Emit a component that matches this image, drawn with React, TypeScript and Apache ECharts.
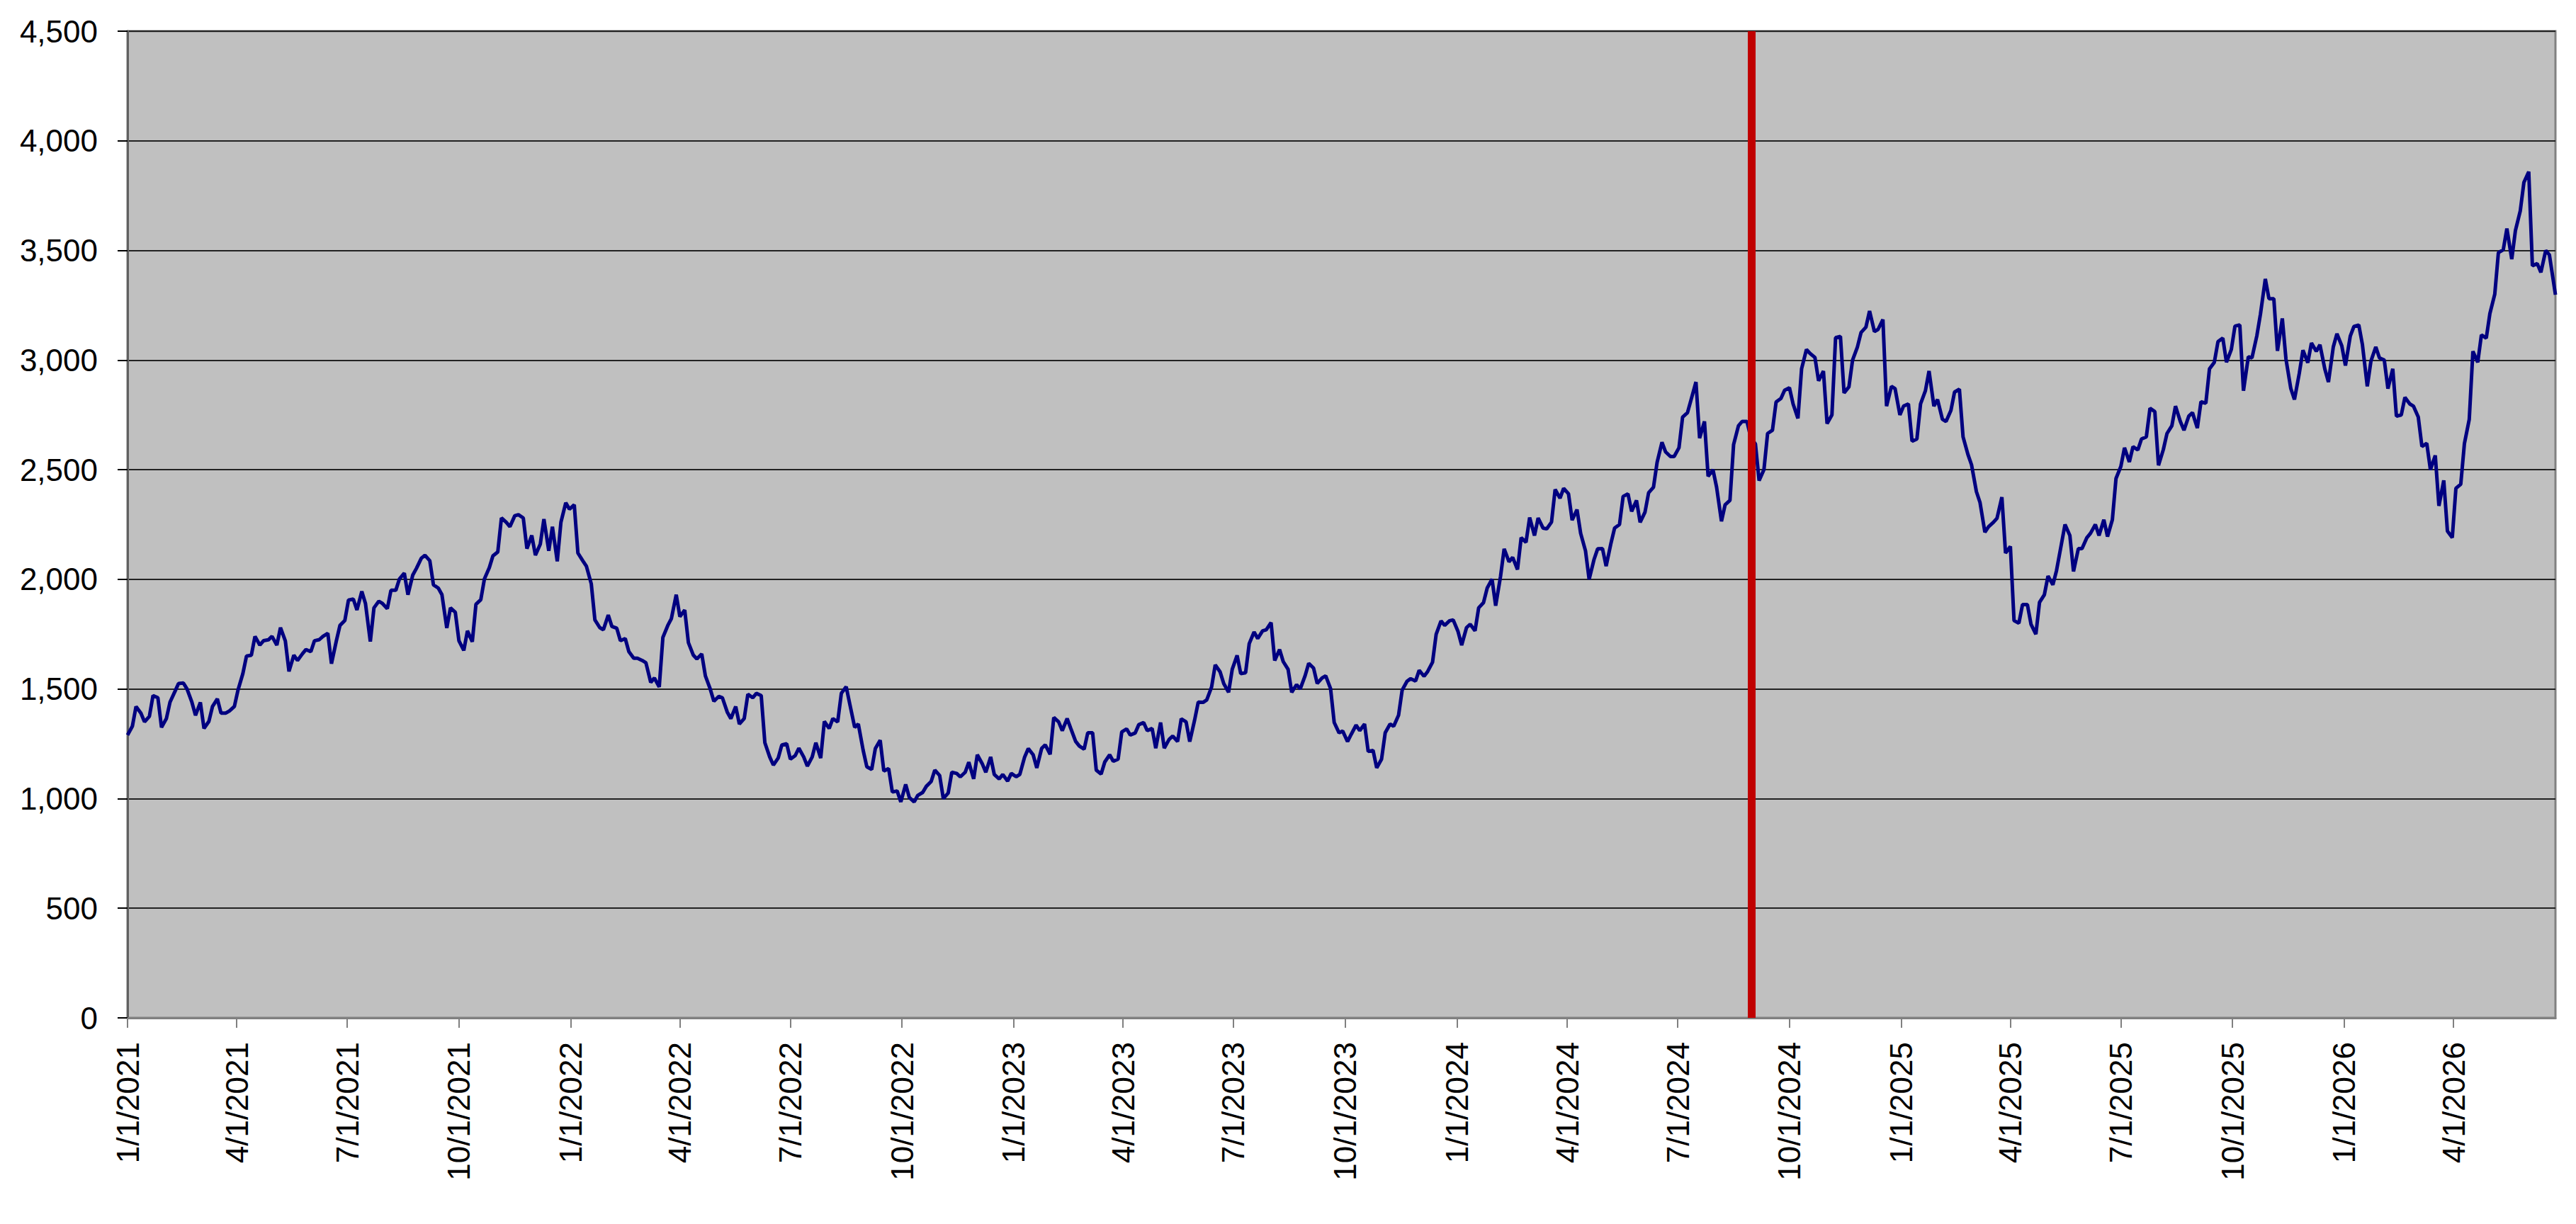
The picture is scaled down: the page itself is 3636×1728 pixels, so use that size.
import React, { useEffect, useRef } from "react";
import * as echarts from "echarts";

// Axis range (daily date axis, Excel-style with quarterly labels)
const startDate = "2021-01-01";
const endDate = "2026-06-24";
const markerDate = "2024-08-31";

const values2021 = [
  1290, 1330, 1420, 1390, 1350, 1375, 1470, 1460, 1325, 1365, 1440, 1488, 1525, 1527,
  1500, 1440, 1380, 1439, 1320, 1352, 1420, 1455, 1390, 1390, 1400, 1420, 1495, 1570,
  1650, 1654, 1740, 1700, 1720, 1724, 1740, 1700, 1780, 1719, 1580, 1654, 1630, 1660,
  1680, 1670, 1720, 1725, 1740, 1754, 1615, 1719, 1790, 1812, 1905, 1910, 1860, 1945,
  1890, 1716, 1870, 1900, 1890, 1866, 1950, 1950, 2002, 2028, 1930, 2020, 2050, 2096,
  2110, 2085, 1975, 1960, 1930, 1778, 1870, 1850, 1720, 1676, 1765, 1715, 1886, 1907,
  2002, 2053, 2107, 2125, 2280, 2260, 2240, 2290, 2295, 2280, 2140, 2200, 2110, 2160,
  2275, 2130, 2240, 2082, 2260, 2349,
];
const values2022 = [
  2320, 2340, 2120, 2085, 2060, 1980, 1815, 1780, 1770, 1837, 1785, 1777, 1720, 1730,
  1670, 1640, 1640, 1630, 1620, 1530, 1550, 1509, 1735, 1789, 1821, 1930, 1830, 1860,
  1712, 1655, 1637, 1660, 1560, 1500, 1444, 1466, 1460, 1395, 1365, 1420, 1340, 1365,
  1476, 1460, 1480, 1470, 1255, 1190, 1153, 1185, 1245, 1250, 1180, 1196, 1230, 1190,
  1148, 1190, 1255, 1185, 1352, 1320, 1365, 1350, 1480, 1510, 1430, 1325, 1340, 1220,
  1145, 1133, 1228, 1266, 1126, 1137, 1030, 1035, 985, 1065, 1005, 985, 1015, 1028,
  1056, 1078, 1130, 1105, 1000, 1025, 1120, 1115, 1099, 1120, 1166, 1090, 1200, 1160,
  1120, 1190, 1110, 1090, 1110, 1080,
];
const values2023 = [
  1115, 1100, 1110, 1190, 1228, 1200, 1140, 1229, 1245, 1202, 1370, 1350, 1310, 1365,
  1320, 1261, 1240, 1225, 1300, 1300, 1130, 1112, 1167, 1200, 1170, 1180, 1304, 1318,
  1290, 1299, 1337, 1347, 1310, 1320, 1230, 1347, 1230, 1270, 1285, 1260, 1364, 1350,
  1260, 1358, 1440, 1439, 1450, 1509, 1610, 1578, 1525, 1485, 1590, 1653, 1570, 1574,
  1707, 1760, 1730, 1765, 1770, 1803, 1630, 1680, 1625, 1590, 1485, 1520, 1500, 1560,
  1617, 1595, 1525, 1550, 1560, 1502, 1347, 1300, 1308, 1260, 1293, 1335, 1310, 1340,
  1215, 1220, 1140, 1180, 1300, 1340, 1330, 1380, 1495, 1535, 1547, 1536, 1585, 1558,
  1580, 1622, 1750, 1810, 1790, 1811,
];
const values2024 = [
  1815, 1762, 1700, 1780, 1795, 1765, 1870, 1894, 1960, 2001, 1880, 2013, 2139, 2080,
  2100, 2045, 2190, 2169, 2282, 2200, 2280, 2234, 2230, 2261, 2410, 2370, 2415, 2390,
  2270, 2318, 2210, 2130, 2000, 2090, 2139, 2140, 2060, 2165, 2234, 2250, 2378, 2390,
  2310, 2360, 2260, 2306, 2395, 2420, 2534, 2625, 2581, 2560, 2560, 2600, 2740, 2760,
  2820, 2900, 2644, 2720, 2470, 2500, 2420, 2265, 2340, 2360, 2615, 2700, 2720, 2720,
  2650, 2617, 2450, 2500, 2665, 2680, 2809, 2825, 2862, 2874, 2800, 2734, 2960, 3048,
  3030, 3012, 2905, 2950, 2710, 2750, 3102, 3108, 2850, 2878, 3000, 3060, 3126, 3150,
  3224, 3130, 3140, 3185, 2790, 2880,
];
const values2025 = [
  2870, 2750, 2790, 2800, 2630, 2640, 2800, 2860, 2950, 2790, 2820, 2730, 2720, 2770,
  2854, 2867, 2650, 2570, 2522, 2400, 2350, 2215, 2240, 2260, 2279, 2375, 2120, 2150,
  1812, 1800, 1885, 1885, 1795, 1750, 1895, 1930, 2015, 1975, 2040, 2160, 2250, 2200,
  2036, 2140, 2140, 2190, 2210, 2250, 2200, 2272, 2195, 2272, 2460, 2515, 2600, 2535,
  2605, 2590, 2640, 2650, 2780, 2765, 2520, 2592, 2665, 2700, 2790, 2720, 2680, 2745,
  2760, 2690, 2810, 2803, 2960, 2990, 3084, 3100, 2990, 3048, 3155, 3160, 2860, 3015,
  3010, 3110, 3210, 3370, 3280, 3280, 3042, 3190, 3005, 2870, 2820, 2940, 3045, 2988,
  3078, 3040, 3070, 2960,
];
const values2026 = [
  2900, 3060, 3120, 3065, 2975, 3110, 3153, 3160, 3070, 2880, 2995, 3060, 3010, 3000,
  2870, 2960, 2744, 2750, 2830, 2800, 2790, 2740, 2606, 2620, 2500, 2565, 2335, 2451,
  2220, 2190, 2415, 2434, 2619, 2730, 3040, 2990, 3115, 3100, 3212, 3300, 3490, 3503,
  3600, 3460, 3590, 3680, 3810, 3859, 3430, 3440, 3400, 3500, 3480,
];
const lastValue = 3298; // value on endDate

const yTicks = [0, 500, 1000, 1500, 2000, 2500, 3000, 3500, 4000, 4500];

const DAY = 86400000;
const parse = (s: string) => {
  const [y, m, d] = s.split("-").map(Number);
  return Date.UTC(y, m - 1, d);
};
const iso = (t: number) => new Date(t).toISOString().slice(0, 10);

function buildCategories(): string[] {
  const out: string[] = [];
  for (let t = parse(startDate); t <= parse(endDate); t += DAY) out.push(iso(t));
  return out;
}

function isQuarterStart(v: string) {
  const [, m, d] = v.split("-").map(Number);
  return d === 1 && (m === 1 || m === 4 || m === 7 || m === 10);
}

function fmtDate(v: string) {
  const [y, m, d] = v.split("-").map(Number);
  return `${m}/${d}/${y}`;
}

export default function App() {
  const ref = useRef<HTMLDivElement>(null);

  useEffect(() => {
    if (!ref.current) return;
    const chart = echarts.init(ref.current, undefined, { renderer: "svg" });
    const cats = buildCategories();
    const obs = [
      ...values2021,
      ...values2022,
      ...values2023,
      ...values2024,
      ...values2025,
      ...values2026,
    ];
    const data: (number | null)[] = cats.map(() => null);
    obs.forEach((v, i) => {
      const day = Math.round(i * 3.5);
      if (day < data.length - 1) data[day] = v;
    });
    data[data.length - 1] = lastValue;

    const font = "'Liberation Sans', Arial, Helvetica, sans-serif";
    const intervalFn = (_i: number, v: string) => isQuarterStart(v);

    chart.setOption({
      animation: false,
      backgroundColor: "#ffffff",
      grid: {
        left: 180,
        right: 29,
        top: 44,
        bottom: 291,
        show: true,
        backgroundColor: "#C0C0C0",
        borderColor: "#808080",
        borderWidth: 3,
      },
      xAxis: {
        type: "category",
        data: cats,
        boundaryGap: false,
        axisLine: { show: true, lineStyle: { color: "#808080", width: 3 } },
        axisTick: {
          show: true,
          interval: intervalFn,
          length: 14,
          lineStyle: { color: "#808080", width: 2 },
        },
        axisLabel: {
          interval: intervalFn,
          rotate: 90,
          margin: 34,
          fontSize: 44,
          fontFamily: font,
          color: "#000000",
          formatter: (v: string) => fmtDate(v),
        },
        splitLine: { show: false },
      },
      yAxis: {
        type: "value",
        min: yTicks[0],
        max: yTicks[yTicks.length - 1],
        interval: yTicks[1] - yTicks[0],
        axisLine: { show: true, lineStyle: { color: "#606060", width: 3 } },
        axisTick: {
          show: true,
          length: 14,
          lineStyle: { color: "#000000", width: 2 },
        },
        axisLabel: {
          margin: 42,
          fontSize: 44,
          fontFamily: font,
          color: "#000000",
          formatter: (v: number) => v.toLocaleString("en-US"),
        },
        splitLine: { show: true, lineStyle: { color: "#222222", width: 2 } },
      },
      series: [
        {
          type: "line",
          data,
          connectNulls: true,
          showSymbol: false,
          symbol: "none",
          lineStyle: { color: "#000080", width: 5 },
          itemStyle: { color: "#000080" },
          markLine: {
            silent: true,
            symbol: ["none", "none"],
            label: { show: false },
            lineStyle: { color: "#C00000", width: 11, type: "solid" },
            data: [{ xAxis: markerDate }],
          },
        },
      ],
    });
    return () => chart.dispose();
  }, []);

  return (
    <div
      ref={ref}
      style={{ position: "absolute", left: 0, top: 0, width: "3636px", height: "1728px" }}
    />
  );
}
